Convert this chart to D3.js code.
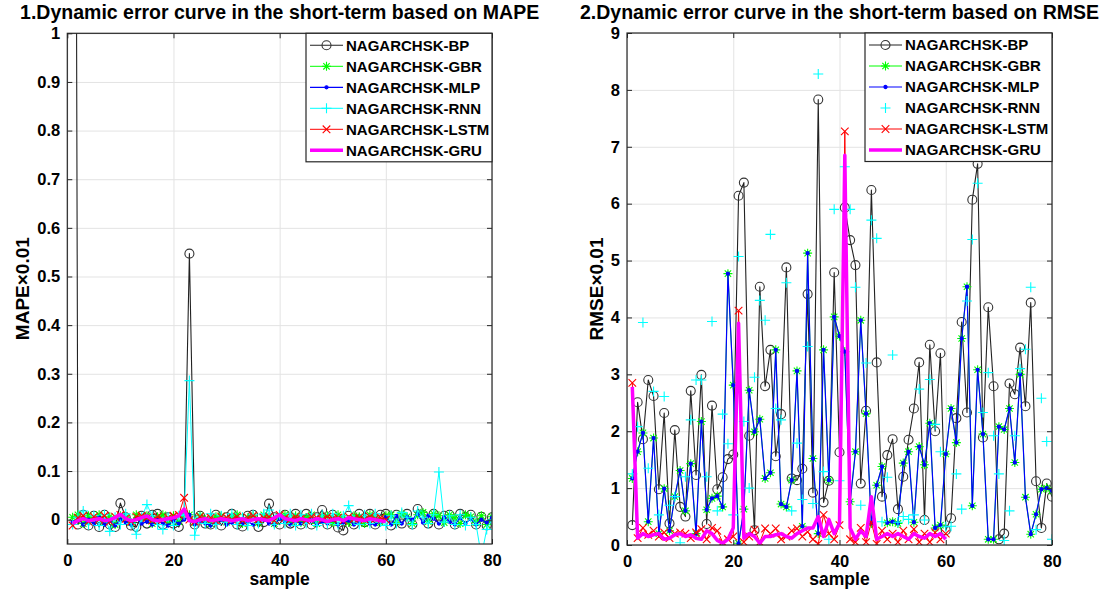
<!DOCTYPE html>
<html><head><meta charset="utf-8">
<script src="https://cdn.jsdelivr.net/npm/d3@7"></script>
<style>
body{margin:0;background:#fff}
svg{display:block}
text{font-family:"Liberation Sans",Arial,sans-serif;font-weight:bold;fill:#000}
</style>
</head><body>
<svg id="c" width="1117" height="589"></svg>
<script>
// ---------------- DATA ----------------
const samples = d3.range(1, 81);
const xTickVals = [0, 20, 40, 60, 80];
const yTicksLeft = [0, 0.1, 0.2, 0.3, 0.4, 0.5, 0.6, 0.7, 0.8, 0.9, 1];
const yTicksRight = [0, 1, 2, 3, 4, 5, 6, 7, 8, 9];
const seriesNames = ["NAGARCHSK-BP", "NAGARCHSK-GBR", "NAGARCHSK-MLP", "NAGARCHSK-RNN", "NAGARCHSK-LSTM", "NAGARCHSK-GRU"];

// MAPE (left panel)
const mapeBP = [4.0,-0.01,0.01,-0.012,0.008,-0.015,0.01,-0.01,-0.015,0.034,0.005,-0.012,-0.015,0.008,-0.008,0.01,0.012,-0.01,0.005,-0.008,-0.015,0.01,0.547,-0.01,0.008,-0.008,-0.01,0.01,-0.012,0.005,0.012,-0.01,-0.014,0.008,0.01,-0.015,-0.005,0.033,0.005,-0.01,0.01,-0.008,0.012,-0.01,0.012,-0.01,0.005,0.02,-0.01,0.01,-0.016,-0.022,0.008,-0.01,0.012,-0.005,0.012,-0.01,0.01,0.012,-0.012,0.01,-0.008,0.012,-0.01,0.022,0.01,-0.008,0.012,-0.01,0.008,0.01,-0.01,0.012,0.005,0.01,-0.01,0.006,-0.012,0.005];
const mapeGBR = [0.005,0.01,-0.008,0.008,0.0,0.01,-0.005,0.006,-0.01,0.008,0.005,-0.006,0.01,0.004,0.008,-0.008,0.006,0.01,-0.005,0.008,-0.004,0.012,0.01,-0.006,0.008,0.0,-0.008,0.006,0.008,-0.005,0.006,0.01,-0.008,0.004,0.008,-0.006,0.01,0.005,-0.008,0.006,0.01,-0.004,0.008,-0.006,0.004,0.01,-0.008,0.006,0.008,-0.006,0.01,0.004,-0.006,0.008,0.006,-0.008,0.01,0.004,-0.006,0.008,0.01,-0.005,0.012,0.006,-0.008,0.01,0.015,-0.004,0.012,0.008,-0.006,0.01,0.004,-0.008,0.01,0.006,-0.006,0.008,-0.01,0.006];
const mapeMLP = [-0.005,0.002,-0.01,0.0,-0.008,0.004,-0.01,-0.002,-0.012,0.0,-0.006,-0.01,0.002,-0.008,-0.004,-0.01,0.0,-0.008,-0.012,-0.002,-0.008,0.0,0.01,-0.01,-0.002,-0.008,-0.012,-0.004,0.0,-0.01,-0.006,0.002,-0.008,-0.004,-0.01,-0.006,0.0,-0.008,-0.01,0.002,-0.004,-0.01,-0.002,-0.008,-0.006,0.0,-0.01,-0.004,-0.008,0.0,-0.01,-0.006,-0.002,-0.01,-0.004,0.0,-0.008,-0.01,-0.004,0.005,-0.01,0.008,-0.008,0.005,0.0,0.012,-0.006,0.008,0.002,-0.008,0.005,-0.004,-0.01,0.004,-0.008,0.002,-0.01,0.0,-0.006,0.004];
const mapeRNN = [-0.01,0.005,0.018,-0.01,0.008,-0.012,0.01,-0.024,0.005,-0.01,0.012,-0.008,-0.03,0.005,0.031,0.008,-0.01,-0.02,0.005,-0.012,0.008,0.01,0.286,-0.032,0.005,-0.008,0.012,-0.01,0.008,-0.005,0.012,-0.01,0.005,-0.012,0.01,-0.008,0.012,0.02,-0.01,0.01,-0.008,0.012,-0.012,0.01,-0.008,0.012,-0.012,0.01,-0.008,0.012,-0.01,0.008,0.029,0.0,-0.01,0.01,-0.008,0.012,-0.005,-0.012,0.008,-0.008,0.015,0.005,-0.01,0.018,0.005,-0.008,0.01,0.098,-0.005,0.008,-0.01,0.01,-0.012,0.005,-0.01,-0.075,-0.02,0.0];
const mapeLSTM = [-0.012,0.004,0.008,-0.004,0.006,0.0,0.008,-0.004,0.006,0.01,0.002,-0.004,0.006,0.008,0.004,-0.002,0.006,0.0,0.004,0.008,0.01,0.045,0.0,-0.004,0.006,0.002,0.004,-0.002,0.006,0.004,0.0,0.006,-0.002,0.004,0.008,0.0,0.004,0.006,-0.002,0.01,0.004,0.0,0.006,0.002,-0.002,0.006,0.004,0.0,0.006,0.002,0.004,-0.002,0.006,0.002,0.004,0.0,0.006,0.002,0.004,0.0];
const mapeGRU = [-0.008,-0.002,0.002,-0.002,0.0,0.002,-0.002,0.0,0.004,0.011,0.002,-0.002,0.0,0.004,0.008,0.0,-0.002,0.0,0.002,0.004,0.008,0.022,-0.002,-0.004,0.0,0.002,-0.002,0.0,0.002,0.0,-0.002,0.0,0.002,-0.002,0.0,0.002,0.0,-0.002,0.004,0.01,0.002,0.0,-0.002,0.002,0.0,-0.002,0.002,0.0,-0.004,0.0,0.002,-0.002,0.004,0.002,0.0,-0.002,0.002,0.0,-0.002,-0.004];

// RMSE (right panel)
const rmseBP = [0.35,2.51,1.86,2.90,2.62,0.98,2.32,0.38,2.02,0.67,0.50,2.71,1.23,2.99,0.37,2.45,0.98,1.19,1.51,1.59,6.14,6.37,1.92,0.26,4.54,2.79,3.43,1.56,2.30,4.88,1.17,1.14,1.34,4.41,0.92,7.83,0.75,1.13,4.79,1.63,5.93,5.36,4.92,1.08,2.36,6.24,3.21,0.85,1.58,1.86,0.63,1.20,1.85,2.40,3.21,0.44,3.52,2.00,3.37,0.26,0.47,2.23,3.92,2.33,6.07,6.70,1.89,4.18,2.79,0.10,0.20,2.84,2.65,3.47,2.44,4.26,1.12,0.30,1.08,0.85];
const rmseGBR = [1.17,1.64,1.97,0.41,1.88,0.20,0.99,0.25,0.85,1.31,0.60,1.43,0.20,2.17,0.62,0.82,0.86,0.67,4.77,2.81,0.03,0.63,2.72,1.99,2.21,1.17,1.27,3.43,0.72,0.67,1.14,3.06,0.33,5.13,1.52,0.20,3.43,1.14,4.01,3.67,3.40,0.76,1.64,3.95,2.31,0.38,1.05,1.38,0.39,0.41,0.38,1.44,1.64,0.40,1.73,1.41,2.14,0.30,0.35,1.60,2.40,1.80,3.63,4.54,0.69,3.08,1.95,0.10,0.10,2.08,2.03,2.40,1.45,3.00,0.84,0.19,0.54,0.98,1.00,0.95];
const rmseMLP = [1.17,1.64,1.97,0.41,1.88,0.20,0.99,0.25,0.85,1.31,0.60,1.43,0.20,2.17,0.62,0.82,0.86,0.67,4.77,2.81,0.03,0.63,2.72,1.99,2.21,1.17,1.27,3.43,0.72,0.67,1.14,3.06,0.33,5.13,1.52,0.20,3.43,1.14,4.01,3.67,3.40,0.76,1.64,3.95,2.31,0.38,1.05,1.38,0.39,0.41,0.38,1.44,1.64,0.40,1.73,1.41,2.14,0.30,0.35,1.60,2.40,1.80,3.63,4.54,0.69,3.08,1.95,0.10,0.10,2.08,2.03,2.40,1.45,3.00,0.84,0.19,0.54,0.98,1.00,0.95];
const rmseRNN = [1.25,2.08,3.91,1.35,2.70,0.53,2.61,0.70,0.85,0.04,1.20,2.20,2.90,2.90,1.20,3.93,0.60,2.30,1.78,0.53,5.07,2.17,1.00,2.95,4.30,3.95,5.46,2.40,2.20,4.61,0.60,1.79,0.80,3.49,0.73,8.28,1.29,0.10,5.90,1.13,6.65,5.90,4.53,0.70,3.20,5.71,5.39,0.41,1.19,3.34,0.40,0.50,0.45,0.53,2.74,0.44,2.91,2.12,1.64,0.32,0.33,1.25,0.63,4.29,5.37,6.36,2.33,3.03,1.92,1.25,0.08,0.60,1.92,3.10,3.44,4.53,0.27,2.58,1.82,0.10];
const rmseLSTM = [2.85,0.12,0.30,0.18,0.25,0.15,0.22,0.12,0.20,0.22,0.20,0.12,0.22,0.28,0.10,0.30,0.25,0.05,0.10,0.15,4.12,0.05,0.15,0.27,0.05,0.29,0.20,0.29,0.10,0.15,0.25,0.29,0.15,0.23,0.10,0.02,0.53,0.20,0.10,0.35,7.27,0.10,0.05,0.30,0.05,0.40,0.02,0.25,0.10,0.20,0.05,0.25,0.10,0.28,0.05,0.20,0.05,0.22,0.10,0.20];
const rmseGRU = [2.78,0.12,0.20,0.15,0.18,0.20,0.10,0.12,0.18,0.20,0.15,0.18,0.12,0.10,0.25,0.20,0.08,0.03,0.10,0.30,3.90,0.12,0.20,0.15,0.03,0.15,0.15,0.18,0.20,0.15,0.12,0.20,0.25,0.30,0.30,0.50,0.15,0.45,0.20,0.38,6.85,0.30,0.10,0.25,0.15,0.85,0.10,0.15,0.20,0.15,0.20,0.15,0.10,0.20,0.15,0.12,0.20,0.15,0.20,0.10];

// ---------------- STYLE ----------------
const styles = [
  {color:"#222", width:1.1, marker:"o", mcolor:"#333"},
  {color:"#00ff00", width:1, marker:"*", mcolor:"#00ff00"},
  {color:"#0000ff", width:1.2, marker:".", mcolor:"#0000ff"},
  {color:"#00ffff", width:1, marker:"+", mcolor:"#00ffff"},
  {color:"#ff0000", width:1, marker:"x", mcolor:"#ff0000"},
  {color:"#ff00ff", width:3.5, marker:null, mcolor:"#ff00ff"}
];

function markerPath(t, cx, cy) {
  if (t === "o") { const r = 4.5; return `M${cx-r},${cy}a${r},${r} 0 1,0 ${2*r},0a${r},${r} 0 1,0 ${-2*r},0`; }
  if (t === "+") { const s = 5; return `M${cx-s},${cy}H${cx+s}M${cx},${cy-s}V${cy+s}`; }
  if (t === "x") { const s = 3.8; return `M${cx-s},${cy-s}L${cx+s},${cy+s}M${cx-s},${cy+s}L${cx+s},${cy-s}`; }
  if (t === "*") { const s = 4.5, d = 3.2; return `M${cx-s},${cy}H${cx+s}M${cx},${cy-s}V${cy+s}M${cx-d},${cy-d}L${cx+d},${cy+d}M${cx-d},${cy+d}L${cx+d},${cy-d}`; }
  if (t === ".") { const r = 1.6; return `M${cx-r},${cy}a${r},${r} 0 1,0 ${2*r},0a${r},${r} 0 1,0 ${-2*r},0`; }
  return "";
}

const svg = d3.select("#c");

function drawPanel(cfg) {
  const g = svg.append("g");
  const x = d3.scaleLinear().domain([0, 80]).range([cfg.x0, cfg.x1]);
  const y = d3.scaleLinear().domain(cfg.yDomain).range([cfg.yBot, cfg.yTop]);
  const w = cfg.x1 - cfg.x0, h = cfg.yBot - cfg.yTop;

  // gridlines
  g.append("g").attr("transform", `translate(0,${cfg.yBot})`)
    .call(d3.axisBottom(x).tickValues(xTickVals).tickSize(-h).tickFormat(""))
    .call(a => { a.select(".domain").remove(); a.selectAll("line").attr("stroke", "#e3e3e3"); });
  g.append("g").attr("transform", `translate(${cfg.x0},0)`)
    .call(d3.axisLeft(y).tickValues(cfg.yTicks).tickSize(-w).tickFormat(""))
    .call(a => { a.select(".domain").remove(); a.selectAll("line").attr("stroke", "#e3e3e3"); });

  // clip
  const cid = "clip" + cfg.id;
  svg.append("defs").append("clipPath").attr("id", cid)
    .append("rect").attr("x", cfg.x0).attr("y", cfg.yTop).attr("width", w).attr("height", h);
  const plot = g.append("g").attr("clip-path", `url(#${cid})`);

  cfg.series.forEach((vals, i) => {
    const st = styles[i];
    const pts = vals.map((v, k) => [samples[k], v]);
    const line = d3.line().x(d => x(d[0])).y(d => y(d[1]));
    if (!(cfg.noLine && cfg.noLine.includes(i))) {
      plot.append("path").datum(pts).attr("d", line)
        .attr("fill", "none").attr("stroke", st.color).attr("stroke-width", st.width)
        .attr("stroke-linejoin", "round");
    }
    if (st.marker) {
      plot.append("g").selectAll("path").data(pts).join("path")
        .attr("d", d => markerPath(st.marker, x(d[0]), y(d[1])))
        .attr("fill", st.marker === "." ? st.mcolor : "none")
        .attr("stroke", st.mcolor).attr("stroke-width", 1.1);
    }
  });

  // axes with inward ticks
  const axB = g.append("g").attr("transform", `translate(0,${cfg.yBot})`)
    .call(d3.axisBottom(x).tickValues(xTickVals).tickSize(-5).tickPadding(10).tickFormat(d3.format("d")));
  const axL = g.append("g").attr("transform", `translate(${cfg.x0},0)`)
    .call(d3.axisLeft(y).tickValues(cfg.yTicks).tickSize(-5).tickPadding(7).tickFormat(cfg.fmt));
  const axT = g.append("g").attr("transform", `translate(0,${cfg.yTop})`)
    .call(d3.axisTop(x).tickValues(xTickVals).tickSize(-5).tickFormat(""));
  const axR = g.append("g").attr("transform", `translate(${cfg.x1},0)`)
    .call(d3.axisRight(y).tickValues(cfg.yTicks).tickSize(-5).tickFormat(""));
  [axB, axL, axT, axR].forEach(a => {
    a.select(".domain").remove();
    a.selectAll("line").attr("stroke", "#262626");
    a.selectAll("text").attr("font-size", 16.5).attr("font-family", "'Liberation Sans',Arial,sans-serif").attr("font-weight", "bold").attr("fill", "#262626");
  });
  axB.selectAll("text").attr("dy", "0.71em");

  g.append("rect").attr("x", cfg.x0).attr("y", cfg.yTop).attr("width", w).attr("height", h)
    .attr("fill", "none").attr("stroke", "#262626").attr("stroke-width", 1.2);

  // labels
  g.append("text").attr("x", (cfg.x0 + cfg.x1) / 2).attr("y", 19).attr("text-anchor", "middle")
    .attr("font-size", 19.5).text(cfg.title);
  g.append("text").attr("x", (cfg.x0 + cfg.x1) / 2).attr("y", 584.5).attr("text-anchor", "middle")
    .attr("font-size", 17.5).text("sample");
  g.append("text").attr("transform", `translate(${cfg.ylabX},${(cfg.yTop + cfg.yBot) / 2}) rotate(-90)`)
    .attr("text-anchor", "middle").attr("font-size", 19).text(cfg.ylabel);

  // legend
  const lg = g.append("g");
  lg.append("rect").attr("x", cfg.lgX).attr("y", cfg.yTop).attr("width", cfg.x1 - cfg.lgX).attr("height", 128.5)
    .attr("fill", "#fff").attr("stroke", "#262626").attr("stroke-width", 1.2);
  seriesNames.forEach((name, i) => {
    const st = styles[i];
    const yy = cfg.yTop + 12 + i * 21;
    const lx0 = cfg.lgX + 4, lx1 = cfg.lgX + 37, mx = (lx0 + lx1) / 2;
    if (!(cfg.noLine && cfg.noLine.includes(i))) {
      lg.append("line").attr("x1", lx0).attr("x2", lx1).attr("y1", yy).attr("y2", yy)
        .attr("stroke", st.color).attr("stroke-width", st.width);
    }
    if (st.marker) {
      lg.append("path").attr("d", markerPath(st.marker, mx, yy))
        .attr("fill", st.marker === "." ? st.mcolor : "none").attr("stroke", st.mcolor).attr("stroke-width", 1.1);
    }
    lg.append("text").attr("x", cfg.lgX + 40).attr("y", yy).attr("dy", "0.36em")
      .attr("font-size", 15).text(name);
  });
}

drawPanel({
  id: "L", x0: 67.3, x1: 492, yTop: 33.3, yBot: 544, yDomain: [-0.05, 1], yTicks: yTicksLeft,
  fmt: d3.format("~g"), series: [mapeBP, mapeGBR, mapeMLP, mapeRNN, mapeLSTM, mapeGRU],
  title: "1.Dynamic error curve in the short-term based on MAPE", ylabel: "MAPE×0.01", ylabX: 29, lgX: 306
});
drawPanel({
  id: "R", x0: 627, x1: 1052, yTop: 33, yBot: 545, yDomain: [0, 9], yTicks: yTicksRight,
  fmt: d3.format("d"), series: [rmseBP, rmseGBR, rmseMLP, rmseRNN, rmseLSTM, rmseGRU], noLine: [3],
  title: "2.Dynamic error curve in the short-term based on RMSE", ylabel: "RMSE×0.01", ylabX: 603, lgX: 865
});
</script>
</body></html>
